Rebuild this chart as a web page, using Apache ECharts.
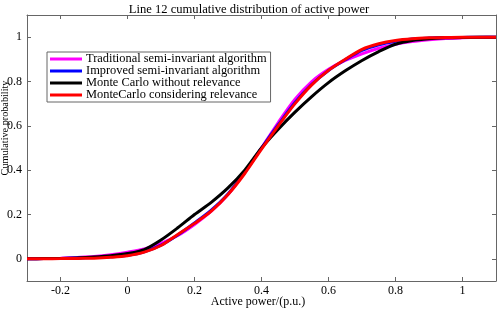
<!DOCTYPE html>
<html>
<head>
<meta charset="utf-8">
<script src="https://cdn.jsdelivr.net/npm/echarts@6/dist/echarts.min.js"></script>
<style>
  html, body { margin: 0; padding: 0; background: #fff; }
  #chart { width: 498px; height: 310px; }
</style>
</head>
<body>
<div id="chart"></div>
<script>
// active power (p.u.)
const xValues = [-0.3, -0.25, -0.2, -0.15, -0.1, -0.05, 0, 0.05, 0.1, 0.15, 0.2, 0.25, 0.3, 0.35, 0.4,
  0.45, 0.5, 0.55, 0.6, 0.65, 0.7, 0.75, 0.8, 0.85, 0.9, 0.95, 1.0, 1.05, 1.1];

const traditional = [0, 0.001, 0.003, 0.006, 0.01, 0.018, 0.03, 0.045, 0.07, 0.105, 0.155, 0.215, 0.29, 0.39, 0.5,
  0.615, 0.72, 0.8, 0.855, 0.895, 0.925, 0.95, 0.968, 0.98, 0.988, 0.994, 0.997, 0.999, 1];
const improved = [0, 0.001, 0.002, 0.004, 0.006, 0.009, 0.016, 0.032, 0.062, 0.108, 0.162, 0.22, 0.293, 0.39, 0.5,
  0.605, 0.705, 0.787, 0.85, 0.898, 0.94, 0.966, 0.982, 0.992, 0.996, 0.998, 0.999, 1, 1];
const mcWithout = [0, 0.001, 0.002, 0.004, 0.008, 0.014, 0.024, 0.042, 0.085, 0.14, 0.2, 0.255, 0.32, 0.4, 0.5,
  0.585, 0.662, 0.732, 0.795, 0.848, 0.895, 0.935, 0.968, 0.985, 0.993, 0.997, 0.999, 1, 1];
const mcWith = [0, 0.0005, 0.001, 0.002, 0.003, 0.007, 0.014, 0.03, 0.06, 0.11, 0.16, 0.215, 0.29, 0.385, 0.495,
  0.6, 0.7, 0.785, 0.85, 0.9, 0.945, 0.97, 0.985, 0.993, 0.997, 0.999, 1, 1, 1];

const xTicks = [-0.2, 0, 0.2, 0.4, 0.6, 0.8, 1];
const yTicks = [0, 0.2, 0.4, 0.6, 0.8, 1];

const names = [
  "Traditional semi-invariant algorithm",
  "Improved semi-invariant algorithm",
  "Monte Carlo without relevance",
  "MonteCarlo considering relevance"
];
const colors = ["#ff00ff", "#0000ff", "#000000", "#ff0000"];
const seriesData = [traditional, improved, mcWithout, mcWith];

const font = "Liberation Serif, Times New Roman, serif";
const frame = "#666";

const chart = echarts.init(document.getElementById("chart"));

const pair = (arr) => xValues.map((x, i) => [x, arr[i]]);

const axisCommon = {
  axisLine: { show: true, onZero: false, lineStyle: { color: frame, width: 1 } },
  splitLine: { show: false }
};

const option = {
  animation: false,
  title: {
    text: "Line 12 cumulative distribution of active power",
    left: "center",
    top: -2,
    textStyle: { fontFamily: font, fontSize: 12.6, fontWeight: "normal", color: "#000" }
  },
  // axis titles
  graphic: [
    {
      type: "text",
      x: 258, y: 302,
      style: {
        text: "Active power/(p.u.)", font: "12px " + font, fill: "#000",
        align: "center", verticalAlign: "middle"
      }
    },
    {
      type: "text",
      x: 5, y: 128,
      rotation: Math.PI / 2,
      style: {
        text: "Cumulative probability", font: "10.2px " + font, fill: "#000",
        align: "center", verticalAlign: "middle"
      }
    }
  ],
  grid: { left: 27, right: 2, top: 15, bottom: 29, outerBoundsMode: "none", containLabel: false },
  legend: {
    orient: "vertical",
    left: 47,
    top: 52,
    data: names,
    icon: "rect",
    itemWidth: 32,
    itemHeight: 3,
    itemGap: 0,
    padding: [1, 4, 1, 3],
    borderColor: frame,
    borderWidth: 1,
    backgroundColor: "#fff",
    textStyle: { fontFamily: font, fontSize: 12.4, lineHeight: 12, color: "#000", padding: [0, 0, 0, -1] }
  },
  xAxis: [
    {
      ...axisCommon,
      type: "value",
      min: -0.3,
      max: 1.1,
      position: "bottom",
      axisTick: { inside: true, length: 4, lineStyle: { color: frame }, customValues: xTicks },
      axisLabel: {
        fontFamily: font, fontSize: 12, color: "#000", margin: 4,
        customValues: xTicks,
        formatter: (v) => String(Math.round(v * 10) / 10)
      }
    },
    {
      ...axisCommon,
      type: "value",
      min: -0.3,
      max: 1.1,
      position: "top",
      axisTick: { inside: true, length: 4, lineStyle: { color: frame }, customValues: xTicks },
      axisLabel: { show: false }
    }
  ],
  yAxis: [
    {
      ...axisCommon,
      type: "value",
      min: -0.1,
      max: 1.1,
      position: "left",
      axisTick: { inside: true, length: 4, lineStyle: { color: frame }, customValues: yTicks },
      axisLabel: {
        fontFamily: font, fontSize: 12, color: "#000", margin: 5,
        customValues: yTicks,
        formatter: (v) => String(Math.round(v * 10) / 10)
      }
    },
    {
      ...axisCommon,
      type: "value",
      min: -0.1,
      max: 1.1,
      position: "right",
      axisTick: { inside: true, length: 4, lineStyle: { color: frame }, customValues: yTicks },
      axisLabel: { show: false }
    }
  ],
  series: names.map((name, i) => ({
    name,
    type: "line",
    xAxisIndex: 0,
    yAxisIndex: 0,
    data: pair(seriesData[i]),
    smooth: 0.3,
    showSymbol: false,
    symbol: "none",
    itemStyle: { color: colors[i] },
    lineStyle: { color: colors[i], width: 3 },
    z: 2 + i
  }))
};

chart.setOption(option);
</script>
</body>
</html>
